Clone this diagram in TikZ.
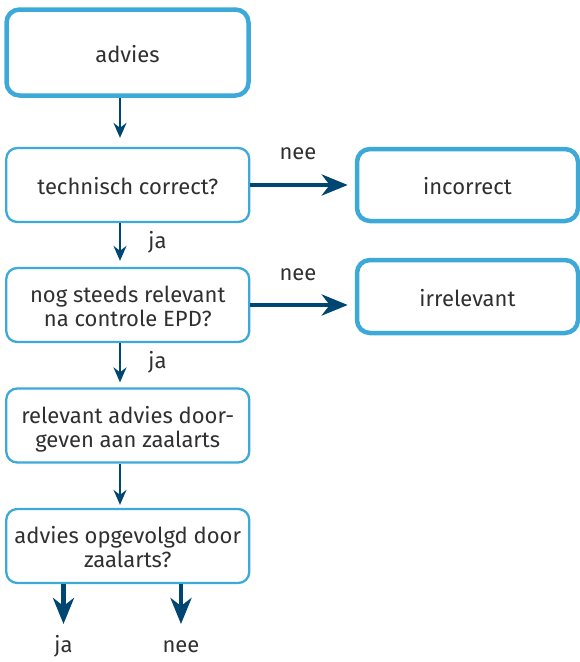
\documentclass[tikz,border=0pt]{standalone}
\usepackage{fontspec}
\setmainfont{Fira Sans}
\usetikzlibrary{arrows.meta}
\definecolor{boxblue}{HTML}{3DA9D9}
\definecolor{arrowblue}{HTML}{004672}
\definecolor{txt}{HTML}{303030}
% box text: centred lines, 24pt apart, set a little below the box centre
\newcommand\boxtext[1]{\raisebox{-5pt}[\height][\depth]{\begin{tabular}{@{}c@{}}#1\end{tabular}}}
\tikzset{
  flowbox/.style={draw=boxblue, line width=2.3pt, rounded corners=11pt, fill=white,
    text=txt, inner sep=0pt, font=\fontsize{22}{24}\selectfont},
  endbox/.style={flowbox, line width=4.5pt, rounded corners=13pt},
  flowarrow/.style={draw=arrowblue, line width=2.2pt,
    -{Stealth[length=15pt,width=13pt,inset=5pt]}},
  boldarrow/.style={draw=arrowblue, line width=4.5pt,
    -{Stealth[length=26pt,width=21pt,inset=8pt]}},
  lbl/.style={text=txt, inner sep=0pt, font=\fontsize{22}{24}\selectfont}
}
\begin{document}
\begin{tikzpicture}[x=1pt,y=-1pt]
\useasboundingbox (0,0) rectangle (580,662);
% left column
\node[endbox,  minimum width=242pt, minimum height=86pt] (advies) at (127.5,52.5) {\boxtext{advies}};
\node[flowbox, minimum width=243pt, minimum height=74pt] (tech)   at (127.75,185) {\boxtext{technisch correct?}};
\node[flowbox, minimum width=243pt, minimum height=74pt] (nog)    at (127.75,305) {\boxtext{nog steeds relevant\\na controle EPD?}};
\node[flowbox, minimum width=243pt, minimum height=74pt] (rel)    at (127.75,425.5) {\boxtext{relevant advies door-\\geven aan zaalarts}};
\node[flowbox, minimum width=243pt, minimum height=74pt] (opv)    at (127.75,546) {\boxtext{advies opgevolgd door\\zaalarts?}};
% right column
\node[endbox, minimum width=221pt, minimum height=72pt] (inc) at (467.5,185) {\boxtext{incorrect}};
\node[endbox, minimum width=221pt, minimum height=73pt] (irr) at (467.5,296.5) {\boxtext{irrelevant}};
% vertical flow
\draw[flowarrow, shorten >=9pt] (advies.south -| 120,0) -- (tech.north -| 120,0);
\draw[flowarrow, shorten >=6pt] (tech.south -| 120,0) -- (nog.north -| 120,0);
\draw[flowarrow, shorten >=5pt] (nog.south -| 120,0) -- (rel.north -| 120,0);
\draw[flowarrow, shorten >=3pt] (rel.south -| 120,0) -- (opv.north -| 120,0);
% side exits
\draw[boldarrow, shorten >=7pt] (tech.east) -- (inc.west);
\draw[boldarrow, shorten >=7pt] (tech.east |- 0,305) -- (irr.west |- 0,305);
% labels
\node[lbl] (n1) at (298,154) {nee};
\node[lbl] (n2) at (298,275) {nee};
\node[lbl, anchor=base] (j1) at (157.5,248) {ja};
\node[lbl, anchor=base] (j2) at (157.5,368) {ja};
% final outcomes
\node[lbl, anchor=base] (ja)  at (63.5,652) {ja};
\node[lbl, anchor=base] (nee) at (181,652) {nee};
\coordinate (ja0)  at (63.5,624);
\coordinate (nee0) at (181,624);
\draw[boldarrow] (opv.south -| ja0) -- (ja0);
\draw[boldarrow] (opv.south -| nee0) -- (nee0);
\end{tikzpicture}
\end{document}
